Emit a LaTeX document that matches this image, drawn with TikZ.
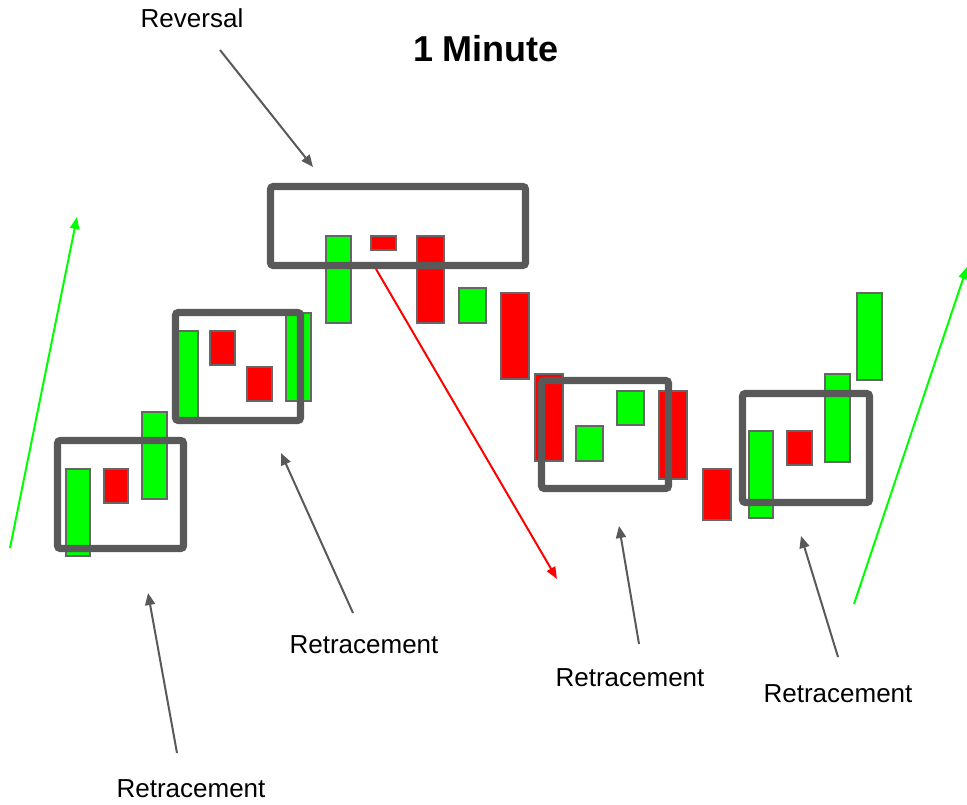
\documentclass[tikz,border=0pt]{standalone}
\usepackage{fontspec}
\setmainfont{Liberation Sans}
\usetikzlibrary{arrows.meta}

\definecolor{boxgray}{HTML}{595959}
\definecolor{edgegray}{HTML}{666666}
\definecolor{bullgreen}{HTML}{00FF00}
\definecolor{bearred}{HTML}{FF0000}

\begin{document}
\begin{tikzpicture}[
    x=0.75pt, y=-0.75pt,
    bull/.style={draw=edgegray, line width=1.3pt, fill=bullgreen},
    bear/.style={draw=edgegray, line width=1.3pt, fill=bearred},
    zone/.style={draw=boxgray, line width=5.3pt, rounded corners=2pt},
    lbl/.style={font=\fontsize{19.5}{22}\selectfont, anchor=base, inner sep=0pt},
    pointer/.style={draw=boxgray, line width=1.5pt, -{Triangle[length=9pt, width=7.5pt]}},
    trend/.style={line width=1.5pt, -{Triangle[length=9pt, width=7pt]}}
]
\useasboundingbox (0,0) rectangle (967,805);

% candles
\foreach \xa/\ya/\xb/\yb in {66/469/90/556, 142/412/167/499, 175/331/198/418,
    286/313/311/401, 326/236/351/323, 459/288/486/323, 576/426/603/461,
    617/391/644/425, 749/431/773/518, 825/374/850/462, 857/293/882/380}
  \draw[bull] (\xa,\ya) rectangle (\xb,\yb);
\foreach \xa/\ya/\xb/\yb in {104/469/128/503, 210/331/235/365, 247/367/272/401,
    371/236/396/250, 417/236/444/323, 501/293/529/379, 535/374/563/461,
    659/391/687/479, 703/469/731/520, 787/431/812/465}
  \draw[bear] (\xa,\ya) rectangle (\xb,\yb);

% zones
\draw[zone] (270.5,186.5) rectangle (525.5,265.5);
\draw[zone] (57.5,440.5) rectangle (183.5,548.5);
\draw[zone] (175.5,312.5) rectangle (300.5,420.5);
\draw[zone] (541.5,380.5) rectangle (668.5,488.5);
\draw[zone] (742.5,393.5) rectangle (869.5,502.5);

% labels
\node[lbl] (rev) at (192,28) {Reversal};
\node[lbl, font=\bfseries\fontsize{27}{30}\selectfont] (title) at (486,62) {1 Minute};
\node[lbl] (ret1) at (191,797) {Retracement};
\node[lbl] (ret2) at (364,653) {Retracement};
\node[lbl] (ret3) at (630,686) {Retracement};
\node[lbl] (ret4) at (838,702) {Retracement};

% arrow ends
\coordinate (revfrom) at (220,50);   \coordinate (revto) at (313,167);
\coordinate (r1from) at (177,753);   \coordinate (r1to) at (148,593);
\coordinate (r2from) at (353,613);   \coordinate (r2to) at (281,453);
\coordinate (r3from) at (639,644);   \coordinate (r3to) at (619,526);
\coordinate (r4from) at (838,657);   \coordinate (r4to) at (801,536);
\coordinate (upLfrom) at (10,548);   \coordinate (upLto) at (77,217);
\coordinate (downfrom) at (376,269); \coordinate (downto) at (557,579);
\coordinate (upRfrom) at (854,604);  \coordinate (upRto) at (967,267);

\draw[pointer] (revfrom) -- (revto);
\draw[pointer] (r1from) -- (r1to);
\draw[pointer] (r2from) -- (r2to);
\draw[pointer] (r3from) -- (r3to);
\draw[pointer] (r4from) -- (r4to);
\draw[trend, draw=bullgreen, fill=bullgreen] (upLfrom) -- (upLto);
\draw[trend, draw=bearred, fill=bearred] (downfrom) -- (downto);
\draw[trend, draw=bullgreen, fill=bullgreen] (upRfrom) -- (upRto);
\end{tikzpicture}
\end{document}
